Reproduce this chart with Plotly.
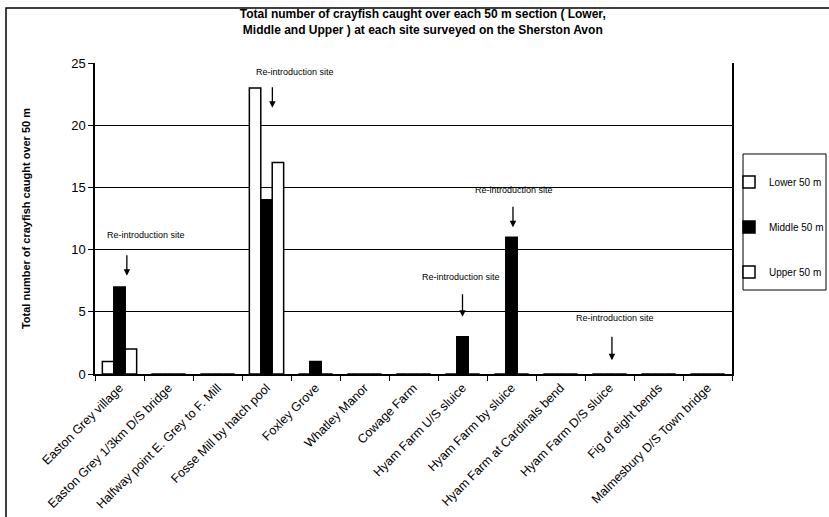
import plotly.graph_objects as go

sites = ["Easton Grey village", "Easton Grey 1/3km D/S bridge", "Halfway point E. Grey to F. Mill",
         "Fosse Mill by hatch pool", "Foxley Grove", "Whatley Manor", "Cowage Farm",
         "Hyam Farm U/S sluice", "Hyam Farm by sluice", "Hyam Farm at Cardinals bend",
         "Hyam Farm D/S sluice", "Fig of eight bends", "Malmesbury D/S Town bridge"]
lower_50m = [1, 0, 0, 23, 0, 0, 0, 0, 0, 0, 0, 0, 0]
middle_50m = [7, 0, 0, 14, 1, 0, 0, 3, 11, 0, 0, 0, 0]
upper_50m = [2, 0, 0, 17, 0, 0, 0, 0, 0, 0, 0, 0, 0]
reintro_sites = [0, 3, 7, 8, 10]
reintro_label = "Re-introduction site"

FONT = "Liberation Sans, Arial, sans-serif"

fig = go.Figure()
fig.add_trace(go.Bar(x=sites, y=lower_50m, name="Lower 50 m", legendgroup="a",
                     marker=dict(color="white", line=dict(color="black", width=1.5))))
fig.add_trace(go.Bar(x=sites, y=middle_50m, name="Middle 50 m", legendgroup="b",
                     marker=dict(color="black", line=dict(color="black", width=1.5))))
fig.add_trace(go.Bar(x=sites, y=upper_50m, name="Upper 50 m", legendgroup="c",
                     marker=dict(color="white", line=dict(color="black", width=1.5))))

# annotation placement: (x offset, text y, arrow head y, arrow length px, text x offset)
ann_pos = {0: (0.15, 11.2, 7.9, 22, 0.55),
           3: (0.12, 24.3, 21.4, 22, 0.58),
           7: (0.0, 7.8, 4.6, 24, -0.03),
           8: (0.03, 14.8, 11.8, 22, 0.05),
           10: (0.05, 4.5, 1.1, 25, 0.12)}
for idx in reintro_sites:
    dx, ty, hy, alen, tx = ann_pos[idx]
    fig.add_annotation(x=idx + dx, y=hy, xref="x", yref="y", text="", showarrow=True,
                       arrowhead=2, arrowsize=1, arrowwidth=1.3, arrowcolor="black",
                       ax=0, ay=-alen)
    fig.add_annotation(x=idx + tx, y=ty, xref="x", yref="y", text=reintro_label,
                       showarrow=False, font=dict(family=FONT, size=9, color="black"))

# outer chart-area border (only top and left visible in the reference)
fig.add_shape(type="rect", xref="paper", yref="paper", x0=-0.1397, x1=1.17, y0=-0.5, y1=1.177,
              line=dict(color="black", width=1.5), fillcolor="rgba(0,0,0,0)", layer="below")
# legend frame
fig.add_shape(type="rect", xref="paper", yref="paper", x0=1.0173, x1=1.1476, y0=0.270, y1=0.7074,
              line=dict(color="black", width=1), fillcolor="rgba(0,0,0,0)", layer="below")

fig.update_layout(
    width=829, height=517,
    margin=dict(l=95, r=97, t=63, b=143, autoexpand=False),
    paper_bgcolor="white", plot_bgcolor="white",
    barmode="group", bargap=0.3, bargroupgap=0.0,
    font=dict(family=FONT, color="black"),
    title=dict(text="Total number of crayfish caught over each 50 m section ( Lower,<br>Middle and Upper ) at each site surveyed on the Sherston Avon",
               x=0.51, xanchor="center", y=0.965, yanchor="middle",
               font=dict(family=FONT, size=12, color="black", weight="bold")),
    legend=dict(x=0.9953, y=0.664, xanchor="left", yanchor="top",
                borderwidth=0, bgcolor="rgba(0,0,0,0)",
                font=dict(family=FONT, size=10, color="black"),
                tracegroupgap=26, traceorder="grouped",
                itemwidth=30),
    showlegend=True,
)
fig.update_xaxes(type="category", tickangle=-45, tickson="boundaries", ticks="outside",
                 ticklen=5, tickcolor="black", showline=True, linecolor="black", linewidth=1.5,
                 showgrid=False, tickfont=dict(family=FONT, size=12.5, color="black"))
fig.update_yaxes(range=[0, 25], dtick=5, ticks="outside", ticklen=5, tickcolor="black",
                 showline=True, linecolor="black", linewidth=1.5, mirror=True,
                 showgrid=True, gridcolor="black", gridwidth=1, zeroline=False,
                 tickfont=dict(family=FONT, size=13, color="black"),
                 title=dict(text="Total number of crayfish caught over 50 m", standoff=38,
                            font=dict(family=FONT, size=11, color="black", weight="bold")))

fig.write_html("out.html", config={"displayModeBar": False},
               post_script="document.body.style.margin='0';")
